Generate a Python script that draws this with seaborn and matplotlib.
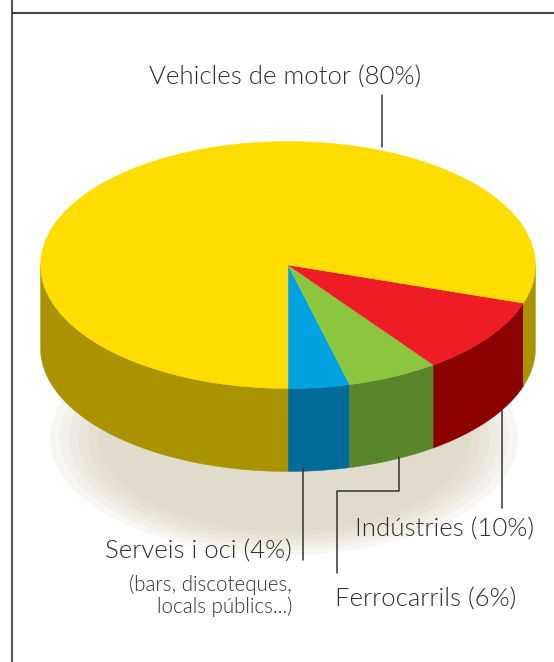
import numpy as np
import matplotlib
matplotlib.use("Agg")
import matplotlib.pyplot as plt
from matplotlib.patches import Ellipse
import seaborn as sns

# dades: ordre antihorari des de la part de baix del pastís
sources = ["Serveis i oci", "Ferrocarrils", "Indústries", "Vehicles de motor"]
shares = [4, 6, 10, 80]
top_colors = ["#00a3e0", "#8cc63f", "#ee1c25", "#ffdd00"]
side_colors = ["#006b99", "#5a862b", "#8b0000", "#a99300"]
labels = ["Serveis i oci (4%)", "Ferrocarrils (6%)", "Indústries (10%)", "Vehicles de motor (80%)"]
note = ["(bars, discoteques,", "locals públics...)"]
shadow_colors = ["#f8f6f2", "#f3f0e9", "#eeeae0", "#e9e4d8", "#e5dfd1", "#e1dbcb"]

sns.set_theme(style="white")
plt.rcParams["font.family"] = ["Lato", "DejaVu Sans"]

W, H = 554, 662
CX, CY = 288, 265          # centre de la cara superior (px)
RX, RY = 247.5, 123.5      # semieixos (px)
depth = 83 / RY            # gruix del pastís en unitats del radi

fig = plt.figure(figsize=(W / 100, H / 100), dpi=100)
fig.patch.set_facecolor("white")

# eixos del pastís: 1 unitat = RX px en x, RY px en y
ax = fig.add_axes([0, 0, 1, 1])

# ombra: el·lipses concèntriques
for i, c in enumerate(shadow_colors):
    a = 234 - i * 9.5
    ax.add_patch(Ellipse(((284 - CX) / RX, (CY - 438) / RY),
                         2 * a / RX, 2 * 0.5 * a / RY, color=c, lw=0))

# parets laterals (només la meitat frontal és visible)
edges = -90 + 360 * np.cumsum([0] + shares) / sum(shares)
for k, col in enumerate(side_colors):
    t0, t1 = edges[k], edges[k + 1]
    for lo in (-180, 180, 540):
        a, b = max(t0, lo), min(t1, lo + 180)
        if b > a:
            t = np.radians(np.linspace(a, b, 120))
            x, y = np.cos(t), np.sin(t)
            ax.fill(np.r_[x, x[::-1]], np.r_[y, y[::-1] - depth],
                    color=col, lw=0.3, ec=col)

# cara superior
ax.pie(shares, colors=top_colors, startangle=-90, counterclock=True,
       radius=1, center=(0, 0), wedgeprops=dict(linewidth=0.3))
for w, c in zip(ax.patches[-len(shares):], top_colors):
    w.set_edgecolor(c)
ax.set_aspect("auto")
ax.set_xlim(-CX / RX, (W - CX) / RX)
ax.set_ylim((CY - H) / RY, CY / RY)
ax.axis("off")

# eixos superposats en píxels per a textos i línies
ov = fig.add_axes([0, 0, 1, 1])
ov.set_xlim(0, W)
ov.set_ylim(H, 0)
ov.axis("off")
ov.patch.set_alpha(0)

# marc
ov.plot([11.5, 11.5], [0, H], color="#555555", lw=1.5)
ov.plot([11.5, W], [12.5, 12.5], color="#444444", lw=1.5)

line_kw = dict(color="#333333", lw=1.1)
txt_kw = dict(color="#2e2e2e", fontweight=300, fontsize=18.5)
note_kw = dict(color="#2e2e2e", fontweight=300, fontsize=14.8)

# Vehicles de motor
ov.plot([382, 382], [95, 147], **line_kw)
ov.text(285, 78, labels[3], ha="center", va="center", **txt_kw)

# Indústries
ov.plot([502, 502], [410, 508], **line_kw)
ov.text(534, 530, labels[2], ha="right", va="center", **txt_kw)

# Ferrocarrils
ov.plot([399, 399, 337, 337], [457, 491, 491, 573], **line_kw)
ov.text(335, 600, labels[1], ha="left", va="center", **txt_kw)

# Serveis i oci
ov.plot([303, 303], [468, 560], **line_kw)
ov.text(292, 552, labels[0], ha="right", va="center", **txt_kw)
ov.text(292, 585, note[0], ha="right", va="center", **note_kw)
ov.text(292, 607, note[1], ha="right", va="center", **note_kw)

fig.savefig("out.png", dpi=100)
